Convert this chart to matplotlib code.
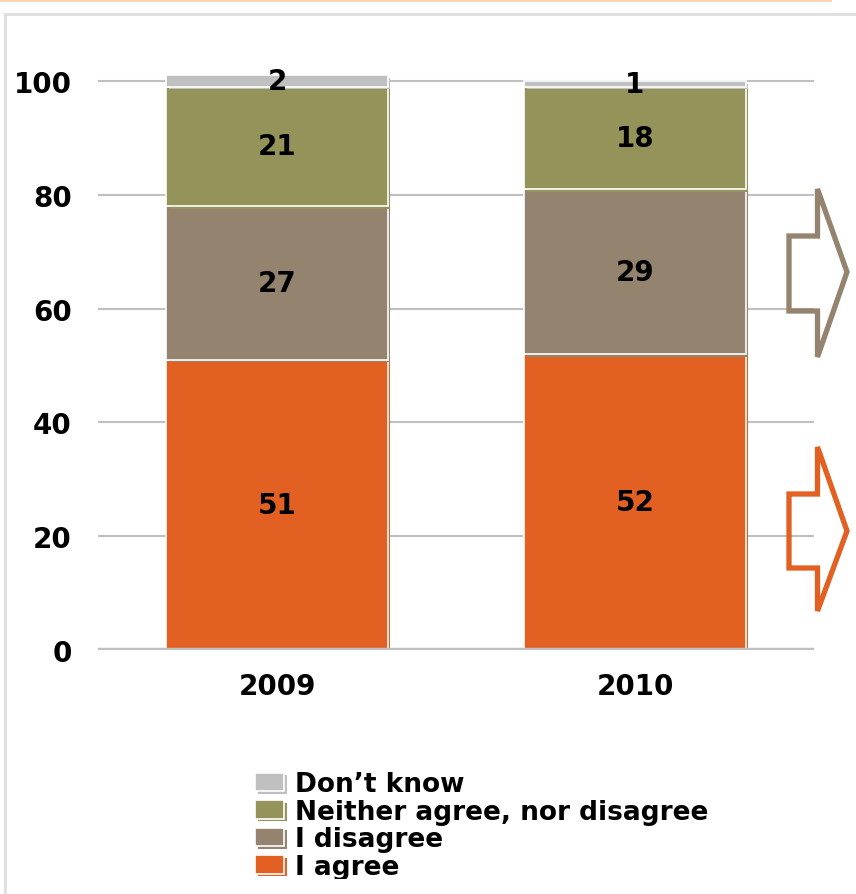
import matplotlib
matplotlib.use("Agg")
import matplotlib.pyplot as plt
import matplotlib.patheffects as pe
from matplotlib.patches import Polygon, Rectangle
from matplotlib.lines import Line2D

# Survey answers by year (percent)
years = ["2009", "2010"]
agree = [51, 52]
disagree = [27, 29]
neither = [21, 18]
dont_know = [2, 1]

series_labels = ["I agree", "I disagree", "Neither agree, nor disagree", "Don\u2019t know"]
series_values = [agree, disagree, neither, dont_know]
series_colors = ["#E26022", "#94836E", "#94945A", "#C0C0C0"]

yticks = [0, 20, 40, 60, 80, 100]

W, H = 856, 895
fig = plt.figure(figsize=(W / 100, H / 100), dpi=100)
plt.rcParams["font.family"] = ["DejaVu Sans"]

def fx(px):
    return px / W

def fy(py):
    return 1 - py / H

# page frame decorations
fig.add_artist(Line2D([fx(0), fx(830)], [fy(1), fy(1)], color="#FCD5B5", lw=2.2))
fig.add_artist(Line2D([fx(5), fx(856)], [fy(15), fy(15)], color="#E0E0E0", lw=2.2))
fig.add_artist(Line2D([fx(5), fx(5)], [fy(15), fy(895)], color="#E0E0E0", lw=2.2))

ymax = 110
px_per_unit = (651 - 82) / 100
ax_bottom = 651
ax_top = ax_bottom - ymax * px_per_unit
ax = fig.add_axes([fx(98), fy(ax_bottom), fx(814) - fx(98), (ax_bottom - ax_top) / H])
ax.set_xlim(-0.5, 1.5)
ax.set_ylim(0, ymax)

x = list(range(len(years)))
bottoms = [0] * len(years)
for label, vals, col in zip(series_labels, series_values, series_colors):
    bars = ax.bar(x, vals, width=0.62, bottom=bottoms, color=col, edgecolor="white",
                  linewidth=1.2, label=label, zorder=3)
    for b in bars:
        b.set_path_effects([pe.SimplePatchShadow(offset=(1.8, -1.8), shadow_rgbFace=col, alpha=1.0),
                            pe.Normal()])
    for xi, v, b0 in zip(x, vals, bottoms):
        ax.text(xi, b0 + v / 2, f"{v}", ha="center", va="center", fontsize=20,
                fontweight="bold", color="black", zorder=5)
    bottoms = [b0 + v for b0, v in zip(bottoms, vals)]

for yt in yticks[1:]:
    ax.axhline(yt, color="#C0C0C0", lw=1.5, zorder=1)
ax.axhline(0, color="#C0C0C0", lw=3.2, zorder=4)

for s in ax.spines.values():
    s.set_visible(False)
ax.set_yticks(yticks)
ax.set_yticklabels([str(t) for t in yticks], fontsize=20, fontweight="bold")
ax.set_xticks(x)
ax.set_xticklabels(years, fontsize=20, fontweight="bold")
ax.tick_params(axis="y", length=0, pad=19)
ax.tick_params(axis="x", length=0, pad=16)

# legend, top entry first
handles, labels = ax.get_legend_handles_labels()
leg = fig.legend(handles[::-1], labels[::-1], loc="upper left",
                 bbox_to_anchor=(fx(255), fy(772)), frameon=False,
                 prop={"size": 19, "weight": "bold"}, handlelength=1.1,
                 handleheight=0.7, handletextpad=0.4, labelspacing=0.06,
                 borderpad=0, borderaxespad=0)
for p, col in zip(leg.get_patches(), series_colors[::-1]):
    p.set_path_effects([pe.SimplePatchShadow(offset=(1.8, -1.8), shadow_rgbFace=col, alpha=1.0),
                        pe.Normal()])

# the legend runs off the lower edge of the panel
fig.add_artist(Rectangle((fx(8), 0), 1, fy(880), transform=fig.transFigure,
                         facecolor="white", edgecolor="none", zorder=10))

# outlined block arrows on the right side
def block_arrow(pts, color):
    poly = Polygon([(fx(a), fy(b)) for a, b in pts], closed=True, fill=False,
                   edgecolor=color, lw=3.8, joinstyle="miter", transform=fig.transFigure,
                   zorder=6)
    fig.add_artist(poly)

block_arrow([(789, 237), (817.5, 237), (817.5, 190), (847, 273), (817.5, 358),
             (817.5, 312), (789, 312)], series_colors[1])
block_arrow([(789, 495), (817.5, 495), (817.5, 448), (847, 532), (817.5, 612),
             (817.5, 569), (789, 569)], series_colors[0])

fig.savefig("out.png", dpi=100)
